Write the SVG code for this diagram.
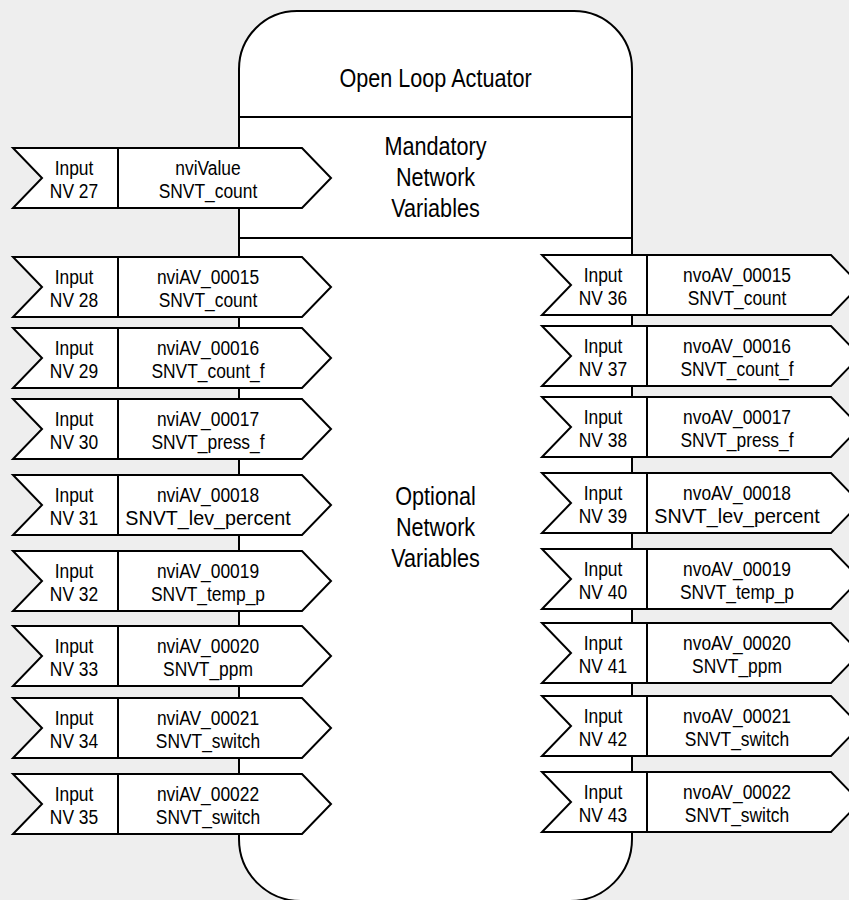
<svg xmlns="http://www.w3.org/2000/svg" width="849" height="900" viewBox="0 0 849 900">
<style>
text{font-family:"Liberation Sans",Arial,sans-serif;fill:#000;text-anchor:middle}
.s{font-size:20px}
.l{font-size:25px}
.shape{fill:#fff;stroke:#000;stroke-width:2}
.div{stroke:#000;stroke-width:2}
</style>
<defs>
<g id="arrow">
<path class="shape" d="M0,0 H289 L318,30 L289,60 H0 L29,30 Z"/>
<line class="div" x1="105" y1="0" x2="105" y2="60"/>
</g>
</defs>
<rect width="849" height="900" fill="#eeeeee"/>
<g id="actuator">
<path class="shape" d="M297,11 H574 A58,58 0 0 1 632,69 V839 A62,62 0 0 1 570,901 H301 A62,62 0 0 1 239,839 V69 A58,58 0 0 1 297,11 Z"/>
<line class="div" x1="239" y1="117" x2="632" y2="117"/>
<line class="div" x1="239" y1="238" x2="632" y2="238"/>
<g transform="scale(0.865,1)">
<text class="l" x="503.5" y="87">Open Loop Actuator</text>
<text class="l" x="503.5" y="155">Mandatory</text>
<text class="l" x="503.5" y="186">Network</text>
<text class="l" x="503.5" y="217">Variables</text>
<text class="l" x="503.5" y="505">Optional</text>
<text class="l" x="503.5" y="536">Network</text>
<text class="l" x="503.5" y="567">Variables</text>
</g>
</g>
<g id="nv27"><use href="#arrow" x="13" y="148"/><g transform="scale(0.87,1)"><text class="s" x="85.06" y="175">Input</text><text class="s" x="85.06" y="198">NV 27</text><text class="s" x="239.08" y="175">nviValue</text><text class="s" x="239.08" y="198">SNVT_count</text></g></g>
<g id="nv28"><use href="#arrow" x="13" y="257"/><g transform="scale(0.87,1)"><text class="s" x="85.06" y="284">Input</text><text class="s" x="85.06" y="307">NV 28</text><text class="s" x="239.08" y="284">nviAV_00015</text><text class="s" x="239.08" y="307">SNVT_count</text></g></g>
<g id="nv29"><use href="#arrow" x="13" y="328"/><g transform="scale(0.87,1)"><text class="s" x="85.06" y="355">Input</text><text class="s" x="85.06" y="378">NV 29</text><text class="s" x="239.08" y="355">nviAV_00016</text><text class="s" x="239.08" y="378">SNVT_count_f</text></g></g>
<g id="nv30"><use href="#arrow" x="13" y="399"/><g transform="scale(0.87,1)"><text class="s" x="85.06" y="426">Input</text><text class="s" x="85.06" y="449">NV 30</text><text class="s" x="239.08" y="426">nviAV_00017</text><text class="s" x="239.08" y="449">SNVT_press_f</text></g></g>
<g id="nv31"><use href="#arrow" x="13" y="475"/><g transform="scale(0.87,1)"><text class="s" x="85.06" y="502">Input</text><text class="s" x="85.06" y="525">NV 31</text><text class="s" x="239.08" y="502">nviAV_00018</text><text class="s" x="239.08" y="525" textLength="190" lengthAdjust="spacingAndGlyphs">SNVT_lev_percent</text></g></g>
<g id="nv32"><use href="#arrow" x="13" y="551"/><g transform="scale(0.87,1)"><text class="s" x="85.06" y="578">Input</text><text class="s" x="85.06" y="601">NV 32</text><text class="s" x="239.08" y="578">nviAV_00019</text><text class="s" x="239.08" y="601">SNVT_temp_p</text></g></g>
<g id="nv33"><use href="#arrow" x="13" y="626"/><g transform="scale(0.87,1)"><text class="s" x="85.06" y="653">Input</text><text class="s" x="85.06" y="676">NV 33</text><text class="s" x="239.08" y="653">nviAV_00020</text><text class="s" x="239.08" y="676">SNVT_ppm</text></g></g>
<g id="nv34"><use href="#arrow" x="13" y="698"/><g transform="scale(0.87,1)"><text class="s" x="85.06" y="725">Input</text><text class="s" x="85.06" y="748">NV 34</text><text class="s" x="239.08" y="725">nviAV_00021</text><text class="s" x="239.08" y="748">SNVT_switch</text></g></g>
<g id="nv35"><use href="#arrow" x="13" y="774"/><g transform="scale(0.87,1)"><text class="s" x="85.06" y="801">Input</text><text class="s" x="85.06" y="824">NV 35</text><text class="s" x="239.08" y="801">nviAV_00022</text><text class="s" x="239.08" y="824">SNVT_switch</text></g></g>
<g id="nv36"><use href="#arrow" x="542" y="255"/><g transform="scale(0.87,1)"><text class="s" x="693.1" y="282">Input</text><text class="s" x="693.1" y="305">NV 36</text><text class="s" x="847.13" y="282">nvoAV_00015</text><text class="s" x="847.13" y="305">SNVT_count</text></g></g>
<g id="nv37"><use href="#arrow" x="542" y="326"/><g transform="scale(0.87,1)"><text class="s" x="693.1" y="353">Input</text><text class="s" x="693.1" y="376">NV 37</text><text class="s" x="847.13" y="353">nvoAV_00016</text><text class="s" x="847.13" y="376">SNVT_count_f</text></g></g>
<g id="nv38"><use href="#arrow" x="542" y="397"/><g transform="scale(0.87,1)"><text class="s" x="693.1" y="424">Input</text><text class="s" x="693.1" y="447">NV 38</text><text class="s" x="847.13" y="424">nvoAV_00017</text><text class="s" x="847.13" y="447">SNVT_press_f</text></g></g>
<g id="nv39"><use href="#arrow" x="542" y="473"/><g transform="scale(0.87,1)"><text class="s" x="693.1" y="500">Input</text><text class="s" x="693.1" y="523">NV 39</text><text class="s" x="847.13" y="500">nvoAV_00018</text><text class="s" x="847.13" y="523" textLength="190" lengthAdjust="spacingAndGlyphs">SNVT_lev_percent</text></g></g>
<g id="nv40"><use href="#arrow" x="542" y="549"/><g transform="scale(0.87,1)"><text class="s" x="693.1" y="576">Input</text><text class="s" x="693.1" y="599">NV 40</text><text class="s" x="847.13" y="576">nvoAV_00019</text><text class="s" x="847.13" y="599">SNVT_temp_p</text></g></g>
<g id="nv41"><use href="#arrow" x="542" y="623"/><g transform="scale(0.87,1)"><text class="s" x="693.1" y="650">Input</text><text class="s" x="693.1" y="673">NV 41</text><text class="s" x="847.13" y="650">nvoAV_00020</text><text class="s" x="847.13" y="673">SNVT_ppm</text></g></g>
<g id="nv42"><use href="#arrow" x="542" y="696"/><g transform="scale(0.87,1)"><text class="s" x="693.1" y="723">Input</text><text class="s" x="693.1" y="746">NV 42</text><text class="s" x="847.13" y="723">nvoAV_00021</text><text class="s" x="847.13" y="746">SNVT_switch</text></g></g>
<g id="nv43"><use href="#arrow" x="542" y="772"/><g transform="scale(0.87,1)"><text class="s" x="693.1" y="799">Input</text><text class="s" x="693.1" y="822">NV 43</text><text class="s" x="847.13" y="799">nvoAV_00022</text><text class="s" x="847.13" y="822">SNVT_switch</text></g></g>
</svg>
